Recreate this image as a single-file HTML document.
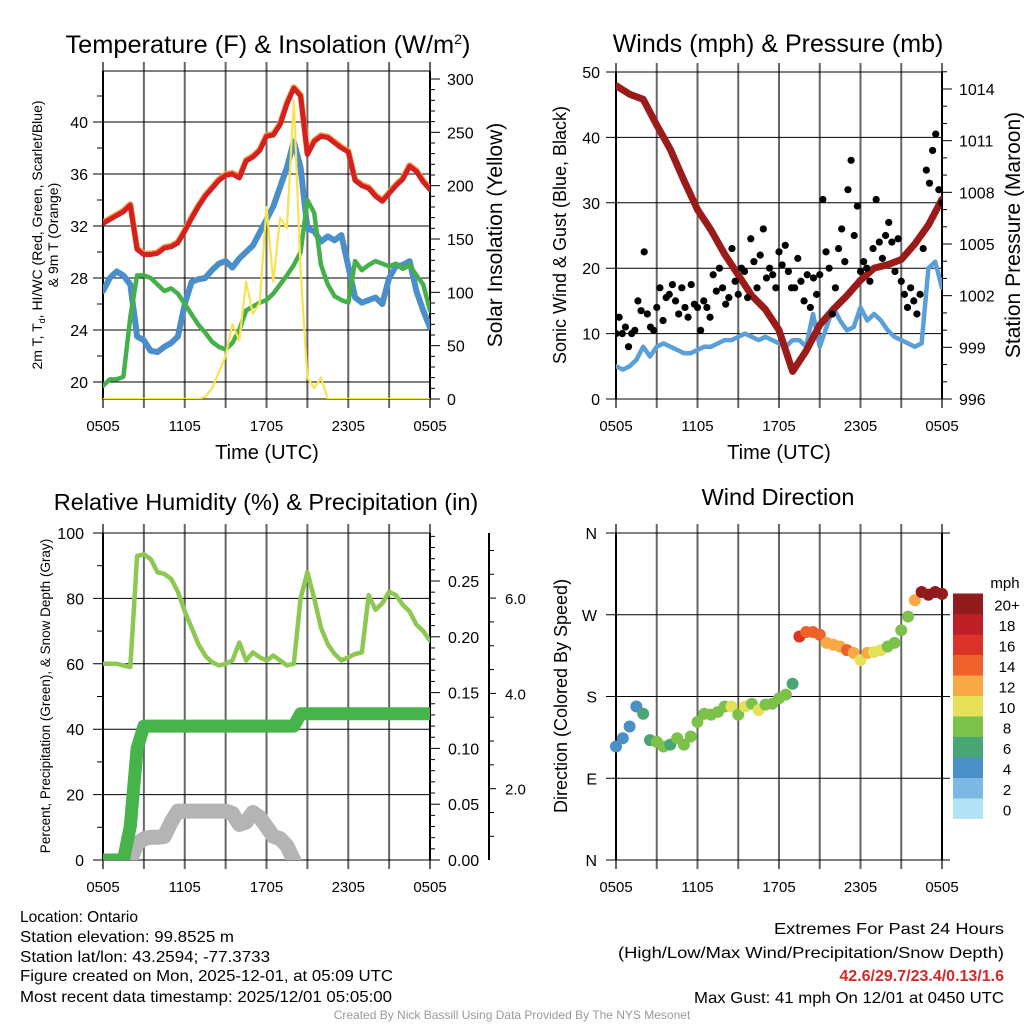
<!DOCTYPE html>
<html><head><meta charset="utf-8"><style>
html,body{margin:0;padding:0;background:#fff;}
svg{display:block;font-family:"Liberation Sans",sans-serif;}
</style></head><body>
<svg id="c" width="1024" height="1024" viewBox="0 0 1024 1024" xmlns="http://www.w3.org/2000/svg">
<defs>
<clipPath id="cA"><rect x="103" y="71" width="327" height="328"/></clipPath>
<clipPath id="cB"><rect x="616" y="72" width="326" height="327"/></clipPath>
<clipPath id="cC"><rect x="103" y="533" width="327" height="327"/></clipPath>
<clipPath id="cD"><rect x="608" y="525" width="342" height="343"/></clipPath>
</defs>
<g id="root"></g>
<text x="268" y="53" font-size="25" text-anchor="middle" textLength="405" lengthAdjust="spacingAndGlyphs">Temperature (F) &amp; Insolation (W/m<tspan dy="-9" font-size="14">2</tspan><tspan dy="9">)</tspan></text>
<text x="778" y="52" font-size="25" text-anchor="middle">Winds (mph) &amp; Pressure (mb)</text>
<text x="266" y="510" font-size="23.5" text-anchor="middle">Relative Humidity (%) &amp; Precipitation (in)</text>
<text x="778" y="505" font-size="23.5" text-anchor="middle">Wind Direction</text>

<text transform="translate(42,235) rotate(-90)" font-size="14" text-anchor="middle">2m T, T<tspan dy="3" font-size="9">d</tspan><tspan dy="-3">, HI/WC (Red, Green, Scarlet/Blue)</tspan></text>
<text transform="translate(58,235) rotate(-90)" font-size="14" text-anchor="middle">&amp; 9m T (Orange)</text>
<text transform="translate(502,235) rotate(-90)" font-size="21" text-anchor="middle">Solar Insolation (Yellow)</text>
<text x="267" y="459" font-size="20" text-anchor="middle">Time (UTC)</text>
<text transform="translate(566,235) rotate(-90)" font-size="18" text-anchor="middle">Sonic Wind &amp; Gust (Blue, Black)</text>
<text transform="translate(1020,235) rotate(-90)" font-size="21" text-anchor="middle">Station Pressure (Maroon)</text>
<text x="779" y="459" font-size="20" text-anchor="middle">Time (UTC)</text>
<text transform="translate(50,696) rotate(-90)" font-size="13.5" text-anchor="middle">Percent, Precipitation (Green), &amp; Snow Depth (Gray)</text>
<text transform="translate(567,696) rotate(-90)" font-size="18" text-anchor="middle">Direction (Colored By Speed)</text>
<text x="1005" y="588" font-size="15" text-anchor="middle">mph</text>

<g font-size="16">
<text x="20" y="922" textLength="118" lengthAdjust="spacingAndGlyphs">Location: Ontario</text>
<text x="20" y="942" textLength="214" lengthAdjust="spacingAndGlyphs">Station elevation: 99.8525 m</text>
<text x="20" y="962" textLength="250" lengthAdjust="spacingAndGlyphs">Station lat/lon: 43.2594; -77.3733</text>
<text x="20" y="981" textLength="373" lengthAdjust="spacingAndGlyphs">Figure created on Mon, 2025-12-01, at 05:09 UTC</text>
<text x="20" y="1002" textLength="372" lengthAdjust="spacingAndGlyphs">Most recent data timestamp: 2025/12/01 05:05:00</text>
</g>
<g font-size="16" text-anchor="end">
<text x="1004" y="934" textLength="230" lengthAdjust="spacingAndGlyphs">Extremes For Past 24 Hours</text>
<text x="1004" y="958" textLength="386" lengthAdjust="spacingAndGlyphs">(High/Low/Max Wind/Precipitation/Snow Depth)</text>
<text x="1004" y="981" fill="#d42a2a" font-weight="bold">42.6/29.7/23.4/0.13/1.6</text>
<text x="1004" y="1003" textLength="310" lengthAdjust="spacingAndGlyphs">Max Gust: 41 mph On 12/01 at 0450 UTC</text>
</g>
<text x="512" y="1019" font-size="12" fill="#999" text-anchor="middle">Created By Nick Bassill Using Data Provided By The NYS Mesonet</text>
</svg>
<script>
// ---- data (half-hour steps from 0505 to 0505 unless noted) ----
const xTickLabels=["0505","1105","1705","2305","0505"];
const tempRed=[32.2,32.5,32.8,33.1,33.6,30.2,29.8,29.8,29.9,30.3,30.4,30.7,31.6,32.6,33.5,34.3,34.9,35.5,35.9,36.0,35.7,37.0,37.3,37.8,38.9,39.0,39.8,41.4,42.6,42.0,37.5,38.5,38.9,38.8,38.4,38.0,37.7,35.5,35.1,34.9,34.3,33.9,34.5,35.1,35.6,36.6,36.2,35.4,34.8];
const tempBlue=[27.0,28.0,28.5,28.2,27.5,23.5,23.2,22.4,22.3,22.7,23.0,23.5,26.0,27.7,27.9,28.0,28.6,29.1,29.3,28.8,29.5,30.0,30.5,31.5,32.5,33.5,35.0,36.5,38.5,36.5,31.8,31.6,30.8,31.2,30.9,31.3,28.9,26.5,26.1,26.3,26.5,26.0,28.0,28.9,29.0,29.3,27.0,25.5,24.2];
const dewGreen=[19.7,20.2,20.2,20.4,25.0,28.2,28.2,28.0,27.5,27.0,27.2,26.8,26.0,25.2,24.4,23.8,23.1,22.7,22.5,23.0,24.0,25.5,25.8,26.1,26.3,26.8,27.5,28.2,29.0,30.0,34.0,33.0,29.0,27.5,26.6,26.3,26.1,29.3,28.6,29.0,29.3,29.1,28.9,29.1,28.7,29.0,28.2,27.5,25.5];
const solar=[0,0,0,0,0,0,0,0,0,0,0,0,0,0,0,2,10,25,40,70,55,110,80,90,180,110,170,160,280,120,20,10,20,0,0,0,0,0,0,0,0,0,0,0,0,0,0,0,0];
const windBlue=[5,4.5,5,6,8,6.5,8,8.5,8,7.5,7,7,7.5,8,8,8.5,9,9,9.5,10,9.5,9,9.5,9,8.5,8,9,9,8,13,8,11,14,12,10.5,11,14,12,13,12,10.5,9.5,9,8.5,8,8.5,20,21,17];
const gusts=[10,12.5,10,11,8,10,10.5,15,13.5,22.5,13,11,10.5,14,17,12,15.5,16,17.5,15,13,17,14,12.5,17.5,14.5,14,10.5,15,14,12.5,19,16.5,20,17,14.5,15.5,23,18,16,20,19.5,15.5,24.5,21,17,22,26,18.5,20,19,17,22.5,20.5,23.5,19.5,17,17,21.5,18,15,19,14,18.5,16,19,30.5,22.5,20,13,17,23,26,21,32,36.5,25,29.5,19.5,21,20,18,23,30.5,24,21.5,25,27,24,19.5,24.5,18,16,14,17,15,13,16,23,35,33,38,40.5,32,30];
const pressure=[1014.2,1013.7,1013.4,1011.9,1010.5,1008.7,1007.0,1005.8,1004.4,1003.2,1002.0,1001.2,1000.0,997.6,998.8,1000.3,1001.2,1002.0,1002.9,1003.6,1003.8,1004.1,1005.0,1006.1,1007.6]; // hourly
const rh=[60,60,60,59.5,59,93,93.5,92,88,87.5,86,82,76,71,66,62.5,60.5,59.5,60,61,66.5,61,63.5,62,61,62.5,61,59.5,60,80,88,80,71,66,63,61,62,63,63.5,81,76.5,78.5,82,81,78,76,72,70,67];
const precip=[0,0,0,0,0.03,0.1,0.12,0.12,0.12,0.12,0.12,0.12,0.12,0.12,0.12,0.12,0.12,0.12,0.12,0.12,0.12,0.12,0.12,0.12,0.12,0.12,0.12,0.12,0.12,0.131,0.131,0.131,0.131,0.131,0.131,0.131,0.131,0.131,0.131,0.131,0.131,0.131,0.131,0.131,0.131,0.131,0.131,0.131,0.131];
const snowDepth=[null,null,null,0.5,0.5,0.85,0.95,0.98,0.98,1.0,1.3,1.53,1.53,1.53,1.53,1.53,1.53,1.53,1.53,1.48,1.25,1.3,1.5,1.4,1.2,1.0,0.95,0.8,0.5];
const windDir=[125,134,147,169,161,132,130,125,127,134,127,136,152,161,160,163,169,169,160,169,172,165,171,172,178,182,194,246,251,251,248,239,237,235,231,228,220,228,229,231,235,239,253,268,286,295,292,295,293];
const windSpd=[4,4,4,4,7,7,8,8,7,8,8,9,8,8,9,9,9,10,9,10,9,10,9,8,9,8,7,17,15,15,14,13,13,12,14,13,11,12,10,11,9,8,8,8,12,20,21,21,21];
const yTempTicks=[20,24,28,32,36,40];
const yWindTicks=[0,10,20,30,40,50];
const yRhTicks=[0,20,40,60,80,100];
const ySnowTicks=[2,4,6];
const dirLabels=["N","E","S","W","N"];
const cbarLabels=["0","2","4","6","8","10","12","14","16","18","20+"];
const cbarColors=["#b3e3f7","#7bb9e2","#4a8fc6","#48a672","#7cc14a","#e5e25a","#f6a945","#ef612b","#dc3227","#be1e26","#921a1d"];

// ---- scales ----
const xA=t=>103+t/24*327, xB=t=>616+t/24*326;
const yT=v=>382-(v-20)*13, yS=v=>399-v*320/300;
const yW=v=>399-v*6.54, yP=v=>399-(v-996)*310/18;
const yRH=v=>860-v*3.27, yPr=v=>860-v*1116, ySn=v=>884-v*47.65;
const yD=d=>860-d*327/360;

const NS='http://www.w3.org/2000/svg';
const root=document.getElementById('root');
function mk(tag,attrs,parent){const e=document.createElementNS(NS,tag);for(const k in attrs)e.setAttribute(k,attrs[k]);(parent||root).appendChild(e);return e;}
function ln(x1,y1,x2,y2,stroke,w,p){return mk('line',{x1,y1,x2,y2,stroke,'stroke-width':w},p);}
function txt(x,y,s,size,anchor,p){const e=mk('text',{x,y,'font-size':size,'text-anchor':anchor},p);e.textContent=s;return e;}
function pathFrom(arr,xf,yf,step){let d='';arr.forEach((v,i)=>{if(v===null||v===undefined)return;d+=(d?'L':'M')+xf(i*step).toFixed(1)+','+yf(v).toFixed(1);});return d;}

function frame(x0,x1,y0,y1,xf,name){
  const g=mk('g',{});
  
  
  for(let h=0;h<=24;h+=3){const x=xf(h);ln(x,y0-9,x,y1+9,'#666',2,g);}
  ln(x0,y0,x1,y0,'#000',1,g);ln(x0,y1,x1,y1,'#000',1,g);
  ln(x0,y0,x0,y1,'#000',2,g);ln(x1,y0,x1,y1,'#000',2,g);
  xTickLabels.forEach((s,i)=>{const t=txt(xf(i*6),y1+32,s,15,'middle',g);
    
    });
  return g;
}

// ===== Panel A: Temperature =====
const gA=frame(103,430,71,399,xA,'temperature');
yTempTicks.forEach(v=>{const y=yT(v);ln(93,y,430,y,'#000',1,gA);const t=txt(88,y+6,String(v),16,'end',gA);
  
  
  ln(97,yT(v+2),103,yT(v+2),'#000',1,gA);});
for(let v=0;v<=300;v+=10){const y=yS(v);const major=v%50===0;ln(430,y,major?440:435,y,'#000',1,gA);
  if(major){const t=txt(447,y+6,String(v),16,'start',gA);
    
    }}
const sA=mk('g',{'clip-path':'url(#cA)','fill':'none','stroke-linejoin':'round','stroke-linecap':'round'});
const p1=mk('path',{d:pathFrom(tempBlue,xA,yT,0.5),stroke:'#4a8ecb','stroke-width':6},sA);


const p2=mk('path',{d:pathFrom(dewGreen,xA,yT,0.5),stroke:'#45b04a','stroke-width':4.5},sA);


const p3o=mk('path',{d:pathFrom(tempRed,xA,t=>yT(t)-1,0.5),stroke:'#f39c4a','stroke-width':6},sA);


const p3=mk('path',{d:pathFrom(tempRed,xA,yT,0.5),stroke:'#d4201f','stroke-width':5},sA);


const p4=mk('path',{d:pathFrom(solar,xA,yS,0.5),stroke:'#f7e34e','stroke-width':2.2},sA);



// ===== Panel B: Winds =====
const gB=frame(616,942,72,399,xB,'winds');
yWindTicks.forEach(v=>{const y=yW(v);ln(606,y,942,y,'#000',1,gB);const t=txt(600,y+6,String(v),16,'end',gB);
  
  });
for(let v=996;v<=1015;v++){const y=yP(v);const major=(v-996)%3===0;ln(942,y,major?952:947,y,'#000',1,gB);
  if(major){const t=txt(959,y+6,String(v),16,'start',gB);
    
    }}
const sB=mk('g',{'clip-path':'url(#cB)','fill':'none','stroke-linejoin':'round','stroke-linecap':'round'});
const wb=mk('path',{d:pathFrom(windBlue,xB,yW,0.5),stroke:'#5a9fd8','stroke-width':4.5},sB);


const pr=mk('path',{d:pathFrom(pressure,xB,yP,1),stroke:'#9b1b1b','stroke-width':7},sB);


gusts.forEach((v,i)=>{const c=mk('circle',{cx:xB(i*24/(gusts.length-1)),cy:yW(v),r:3.6,fill:'#000'},sB);
  
  });

// ===== Panel C: Humidity =====
const gC=frame(103,430,533,860,xA,'humidity');
yRhTicks.forEach(v=>{const y=yRH(v);ln(93,y,430,y,'#000',1,gC);const t=txt(84,y+6,String(v),16,'end',gC);
  
  
  if(v<100)ln(97,yRH(v+10),103,yRH(v+10),'#000',1,gC);});
for(let k=0;k<=29;k++){const v=k/100;const y=yPr(v);const major=k%5===0;ln(430,y,major?440:435,y,'#000',1,gC);
  if(major){const t=txt(448,y+6,v.toFixed(2),16,'start',gC);
    
    }}
ln(489,533,489,860,'#000',2,gC);
for(let v=0.5;v<=7;v+=0.5){const y=ySn(v);if(y<533||y>860)continue;const major=v%2===0;ln(489,y,major?496:494,y,'#000',1,gC);}
ySnowTicks.forEach(v=>{const t=txt(505,ySn(v)+6,v.toFixed(1),15,'start',gC);
  
  });
const sC=mk('g',{'clip-path':'url(#cC)','fill':'none','stroke-linejoin':'round','stroke-linecap':'round'});
const sn=mk('path',{d:pathFrom(snowDepth,xA,ySn,0.5),stroke:'#b4b4b4','stroke-width':15},sC);


const pc=mk('path',{d:pathFrom(precip,xA,yPr,0.5),stroke:'#46b34b','stroke-width':13},sC);


const rl=mk('path',{d:pathFrom(rh,xA,yRH,0.5),stroke:'#8dc852','stroke-width':4.5},sC);



// ===== Panel D: Wind direction =====
const gD=frame(616,942,533,860,xB,'direction');
dirLabels.forEach((s,i)=>{const y=yD(i*90);ln(606,y,950,y,'#000',1,gD);const t=txt(597,y+6,s,16,'end',gD);
  
  });
const sD=mk('g',{'clip-path':'url(#cD)'});
function spdColor(s){return cbarColors[Math.min(10,Math.max(0,Math.floor(s/2)))];}
windDir.forEach((d,i)=>{const c=mk('circle',{cx:xB(i*0.5),cy:yD(d),r:6,fill:spdColor(windSpd[i])},sD);
  
  });
cbarColors.forEach((col,i)=>{const y=819-(i+1)*20.5;
  const r=mk('rect',{x:953,y:y,width:30,height:20.5,fill:col});
  
  
  const t=txt(1007,y+17,cbarLabels[i],15,'middle');
  
  });
</script>
</body></html>
